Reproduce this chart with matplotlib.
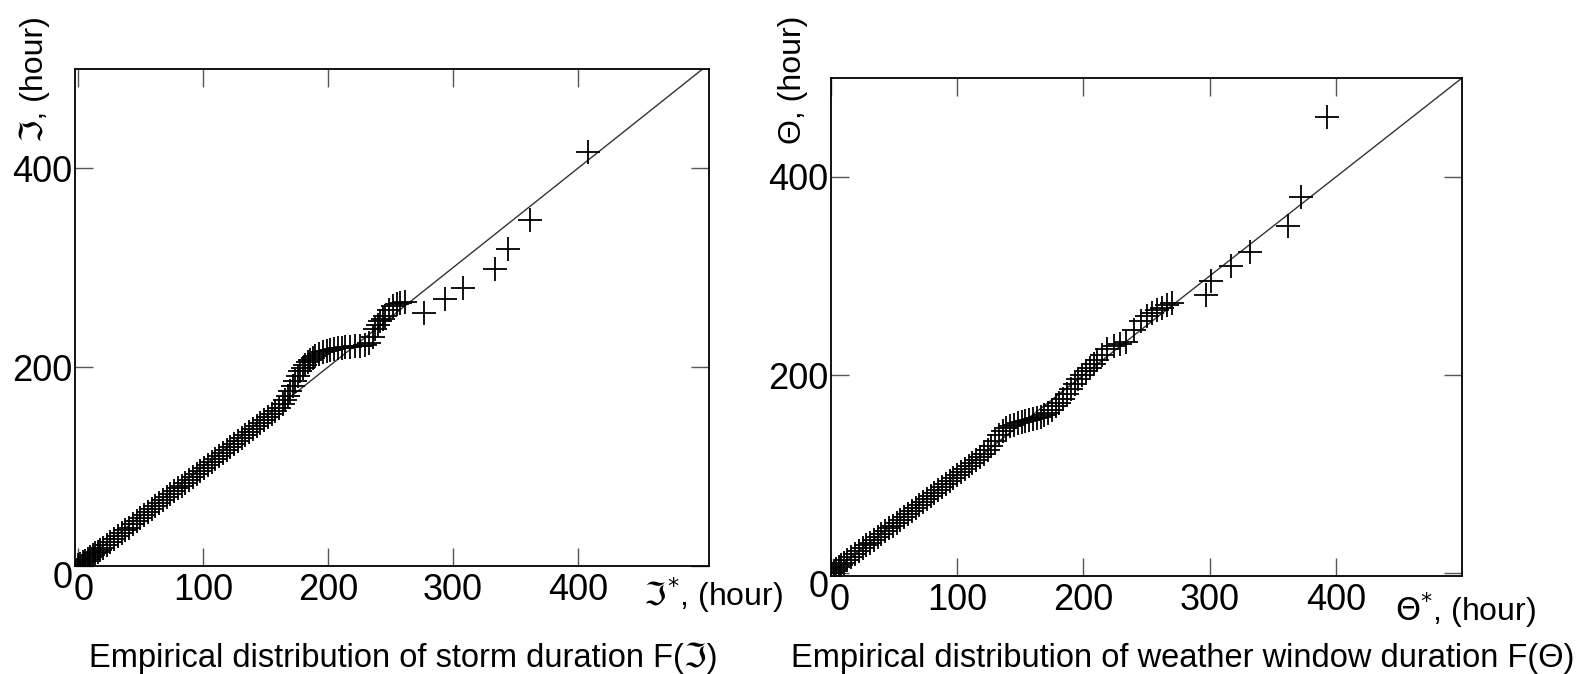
import matplotlib
matplotlib.use("Agg")
import matplotlib.pyplot as plt
import matplotlib.transforms as mtransforms

# storm duration: empirical (x) vs fitted (y), hours
storm_x = [0, 2, 4, 6, 8, 10, 12, 14, 16, 18, 20,
           23, 26, 29, 32, 35, 38, 41, 44, 47, 50, 53, 56, 59, 62, 65, 68, 71, 74, 77,
           80, 83, 86, 89, 92, 95, 98, 101, 104, 107, 110, 113, 116, 119, 122, 125, 128,
           131, 134, 137, 140, 143, 146, 149,
           152, 155, 158, 161, 164,
           166, 168, 170, 172, 174, 176, 178, 180, 182, 184, 186, 188, 190,
           193, 196, 199, 202, 205, 208, 211, 214,
           218, 222, 226, 230, 233, 236,
           238, 240, 242, 244, 246, 249, 252, 255, 258, 262,
           277, 294, 308, 334, 344, 362, 408]
storm_y = [1, 2, 4, 5, 7, 9, 11, 13, 14, 16, 18,
           21, 24, 27, 30, 33, 36, 38, 42, 45, 48, 51, 54, 57, 60, 63, 66, 69, 72, 75,
           78, 81, 84, 87, 90, 93, 96, 99, 102, 105, 108, 111, 114, 117, 120, 123, 126,
           129, 132, 135, 138, 141, 144, 147,
           150, 153, 156, 159, 163,
           167, 171, 176, 181, 186, 191, 196, 199, 202, 205, 207, 209, 211,
           213, 215, 216, 217, 218, 219, 219, 220,
           220, 221, 221, 222, 224, 230,
           238, 242, 246, 249, 252, 258, 262, 264, 265, 266,
           255, 269, 280, 299, 319, 348, 417]

# weather window duration
window_x = [0, 2, 4, 6, 8, 10,
            13, 16, 19, 22, 25, 28, 31, 34, 37, 40, 43, 46, 49, 52, 55, 58, 61, 64, 67,
            70, 73, 76, 79, 82, 85, 88, 91, 94, 97, 100, 103, 106, 109, 112, 115, 118,
            121, 124, 127,
            130, 133, 136, 139, 142, 145, 148, 151, 154, 157, 160, 163, 166, 169, 172,
            175, 178, 181, 184, 187, 190, 193, 196, 199, 202, 205, 208, 211,
            215, 219, 224, 229, 234,
            240, 246, 250, 254, 258, 262, 266, 270,
            297, 301, 317, 332, 362, 372, 393]
window_y = [0, 2, 4, 6, 8, 10,
            13, 16, 19, 22, 25, 28, 30, 33, 36, 39, 42, 45, 48, 51, 54, 57, 60, 63, 66,
            69, 72, 75, 78, 81, 84, 87, 90, 93, 96, 99, 102, 105, 108, 111, 114, 117,
            120, 124, 128,
            133, 139, 143, 146, 148, 150, 152, 153, 154, 155, 156, 157, 158, 160, 162,
            165, 169, 172, 176, 181, 186, 191, 196, 200, 204, 207, 211, 215,
            220, 226, 229, 231, 233,
            245, 255, 260, 263, 266, 268, 271, 273,
            281, 295, 310, 324, 350, 380, 461]

FONT = ['Liberation Sans', 'DejaVu Sans']
plt.rcParams['font.family'] = FONT

fig = plt.figure(figsize=(15.88, 6.74), dpi=100)
ax1 = fig.add_axes([0.0472, 0.1602, 0.3992, 0.7374])
ax2 = fig.add_axes([0.5233, 0.1454, 0.3974, 0.7389])


def shift(label, dx, dy):
    # move a tick label by dx, dy pixels (dy positive = down)
    off = mtransforms.ScaledTranslation(dx / 100, -dy / 100, fig.dpi_scale_trans)
    label.set_transform(label.get_transform() + off)


def panel(ax, x, y, xlim, ylim, zx, zy):
    ax.plot([0, 500], [0, 500], color='#333333', lw=1.0)
    ax.plot(x, y, ls='none', marker='+', ms=17, mew=1.3, color='black')
    ax.set_xlim(*xlim)
    ax.set_ylim(*ylim)
    ax.set_xticks([0, 100, 200, 300, 400])
    ax.set_yticks([0, 200, 400])
    ax.tick_params(direction='in', length=13, width=1, color='#555555',
                   top=True, right=True, labelsize=26)
    ax.tick_params(axis='x', pad=5)
    ax.tick_params(axis='y', pad=2)
    for s in ax.spines.values():
        s.set_linewidth(1.3)
    shift(ax.get_xticklabels()[0], zx, 0)
    shift(ax.get_yticklabels()[0], 0, zy)


panel(ax1, storm_x, storm_y, (-2.4, 505), (0, 500), 6, 8)
panel(ax2, window_x, window_y, (0, 500), (-3, 500), 9, 10)

# axis labels
fig.text(643 / 1588, 1 - 595 / 674, r'$\Im^{*}$, (hour)', fontsize=23, va='center', ha='left')
fig.text(1395 / 1588, 1 - 610 / 674, r'$\Theta^{*}$, (hour)', fontsize=23, va='center', ha='left')
fig.text(35 / 1588, 1 - 79 / 674, '\u2111, (hour)', fontsize=23, rotation=90,
         va='center', ha='center')
fig.text(793 / 1588, 1 - 80 / 674, '\u0398, (hour)', fontsize=23, rotation=90,
         va='center', ha='center')

# captions
fig.text(403 / 1588, 1 - 667 / 674, 'Empirical distribution of storm duration F(\u2111)',
         fontsize=23.5, ha='center', va='baseline')
fig.text(1183 / 1588, 1 - 667 / 674,
         'Empirical distribution of weather window duration F(\u0398)',
         fontsize=23.5, ha='center', va='baseline')

fig.savefig('out.png', dpi=100)
